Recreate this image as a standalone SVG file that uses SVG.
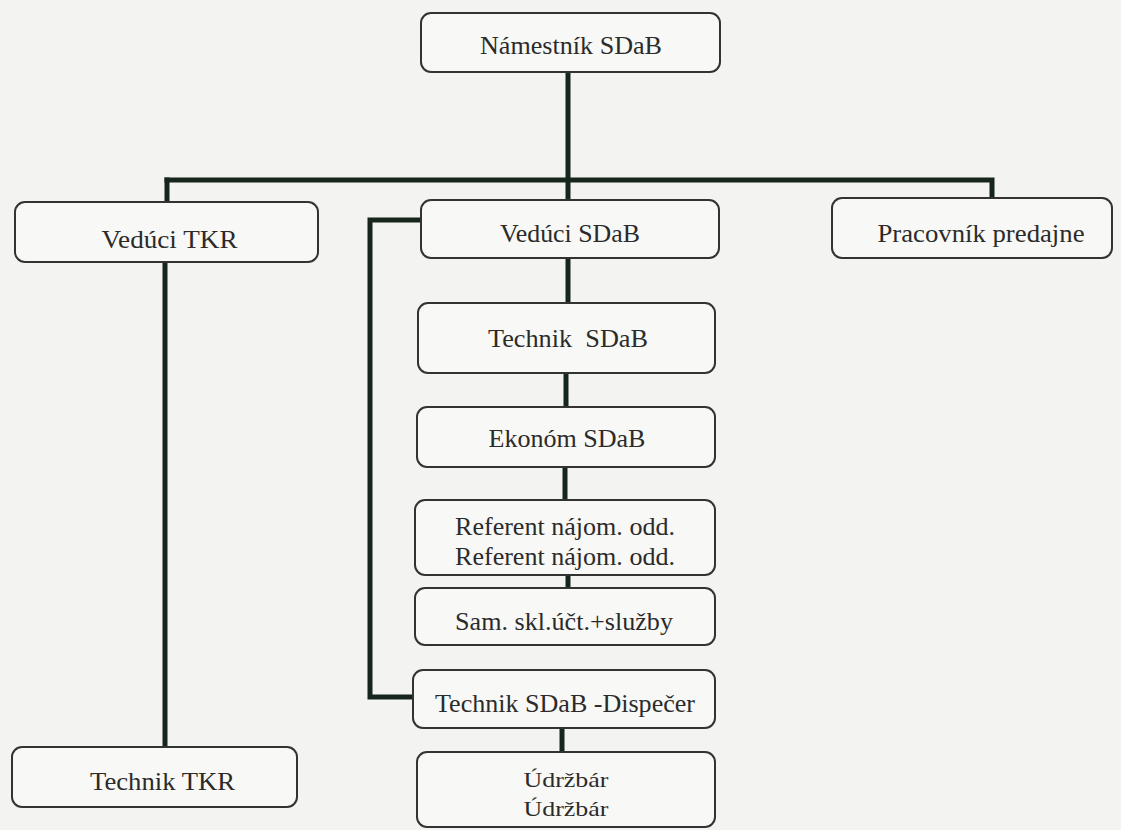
<svg xmlns="http://www.w3.org/2000/svg" width="1121" height="830" viewBox="0 0 1121 830">
<style>
.bg{fill:#f3f3f1}
.box{fill:#f8f8f6;stroke:#333;stroke-width:2}
.t{font-family:"Liberation Serif","Times New Roman",serif;font-size:25.5px;fill:#2b2b2b;text-anchor:middle;white-space:pre}
.s{font-size:22px}
.c{fill:none;stroke:#17261c;stroke-width:5;stroke-linecap:square;stroke-linejoin:miter}
</style>
<rect class="bg" x="0" y="0" width="1121" height="830"/>
<g id="connectors">
<path class="c" d="M568,72 V200"/>
<path class="c" d="M167,180 H992 V198"/>
<path class="c" d="M167,180 V202"/>
<path class="c" d="M165,262 V747"/>
<path class="c" d="M568,258 V303"/>
<path class="c" d="M566,373 V407"/>
<path class="c" d="M565,467 V500"/>
<path class="c" d="M568,575 V588"/>
<path class="c" d="M562,728 V752"/>
<path class="c" d="M421,220 H370 V697 H413"/>
</g>
<g id="n-namestnik">
<rect class="box" x="421" y="13" width="299" height="59" rx="10"/>
<text class="t" x="571" y="54" textLength="182" lengthAdjust="spacingAndGlyphs">Námestník SDaB</text>
</g>
<g id="n-veduci-tkr">
<rect class="box" x="15" y="202" width="303" height="60" rx="10"/>
<text class="t" x="169.5" y="248" textLength="136" lengthAdjust="spacingAndGlyphs">Vedúci TKR</text>
</g>
<g id="n-veduci-sdab">
<rect class="box" x="421" y="200" width="298" height="58" rx="10"/>
<text class="t" x="570" y="242" textLength="140" lengthAdjust="spacingAndGlyphs">Vedúci SDaB</text>
</g>
<g id="n-pracovnik">
<rect class="box" x="832" y="198" width="280" height="60" rx="10"/>
<text class="t" x="981" y="242" textLength="207" lengthAdjust="spacingAndGlyphs">Pracovník predajne</text>
</g>
<g id="n-technik-sdab">
<rect class="box" x="418" y="303" width="297" height="70" rx="10"/>
<text class="t" x="568" y="347" textLength="160" lengthAdjust="spacingAndGlyphs">Technik  SDaB</text>
</g>
<g id="n-ekonom">
<rect class="box" x="417" y="407" width="298" height="60" rx="10"/>
<text class="t" x="567" y="447" textLength="157" lengthAdjust="spacingAndGlyphs">Ekonóm SDaB</text>
</g>
<g id="n-referent">
<rect class="box" x="415" y="500" width="300" height="75" rx="10"/>
<text class="t" x="565" y="535" textLength="220" lengthAdjust="spacingAndGlyphs">Referent nájom. odd.</text>
<text class="t" x="565" y="565" textLength="220" lengthAdjust="spacingAndGlyphs">Referent nájom. odd.</text>
</g>
<g id="n-sam">
<rect class="box" x="415" y="588" width="300" height="57" rx="10"/>
<text class="t" x="564" y="630" textLength="218" lengthAdjust="spacingAndGlyphs">Sam. skl.účt.+služby</text>
</g>
<g id="n-dispecer">
<rect class="box" x="413" y="670" width="302" height="58" rx="10"/>
<text class="t" x="565" y="712" textLength="260" lengthAdjust="spacingAndGlyphs">Technik SDaB -Dispečer</text>
</g>
<g id="n-udrzbar">
<rect class="box" x="417" y="752" width="298" height="75" rx="10"/>
<text class="t s" x="566" y="787" textLength="85" lengthAdjust="spacingAndGlyphs">Údržbár</text>
<text class="t s" x="566" y="816" textLength="85" lengthAdjust="spacingAndGlyphs">Údržbár</text>
</g>
<g id="n-technik-tkr">
<rect class="box" x="12" y="747" width="285" height="60" rx="10"/>
<text class="t" x="162.5" y="790" textLength="145" lengthAdjust="spacingAndGlyphs">Technik TKR</text>
</g>
</svg>
